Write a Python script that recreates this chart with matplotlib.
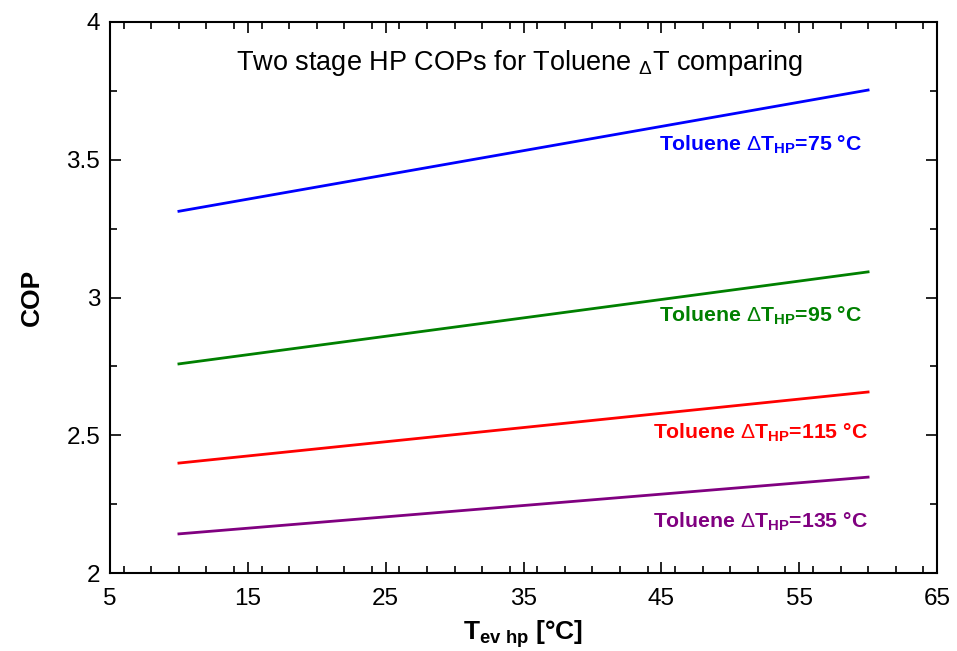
import matplotlib.pyplot as plt
from matplotlib.ticker import MultipleLocator

plt.rcParams['font.family'] = ['Liberation Sans', 'DejaVu Sans']
plt.rcParams['mathtext.fontset'] = 'custom'
plt.rcParams['mathtext.rm'] = 'Liberation Sans'
plt.rcParams['mathtext.bf'] = 'Liberation Sans:bold'
plt.rcParams['mathtext.it'] = 'Liberation Sans:italic'

# evaporator temperature [°C]
t_ev = [10, 60]

# COP for each Toluene delta T
cop_75 = [3.313, 3.753]
cop_95 = [2.759, 3.093]
cop_115 = [2.399, 2.657]
cop_135 = [2.142, 2.348]

series = [
    (cop_75, 'blue', '75', 3.555),
    (cop_95, 'green', '95', 2.935),
    (cop_115, 'red', '115', 2.51),
    (cop_135, 'purple', '135', 2.185),
]

fig = plt.figure(figsize=(9.57, 6.51), dpi=100)
ax = fig.add_axes([110 / 957, 1 - 573 / 651, 827 / 957, 551 / 651])

for vals, col, dt, ylab in series:
    ax.plot(t_ev, vals, color=col, lw=2)
    ax.text(52.2, ylab, r'Toluene $\Delta$T$_{\mathbf{HP}}$=' + dt + ' °C',
            color=col, fontsize=15.3, fontweight='bold', ha='center', va='center')

ax.text(0.495, 0.926, r'Two stage HP COPs for Toluene $_\Delta$T comparing',
        transform=ax.transAxes, ha='center', va='center', fontsize=19.5)

ax.set_xlim(5, 65)
ax.set_ylim(2, 4)
ax.xaxis.set_minor_locator(MultipleLocator(2))
ax.yaxis.set_minor_locator(MultipleLocator(0.25))
ax.set_xticks(range(5, 66, 10))
ax.set_xticklabels([str(v) for v in range(5, 66, 10)])
ax.set_yticks([2, 2.5, 3, 3.5, 4])
ax.set_yticklabels(['2', '2.5', '3', '3.5', '4'])
ax.tick_params(which='both', direction='in', top=True, right=True, width=1.2, labelsize=17.5)
ax.tick_params(axis='x', pad=11)
ax.tick_params(axis='y', pad=7)
ax.tick_params(which='major', length=8)
ax.tick_params(which='minor', length=5)
for s in ax.spines.values():
    s.set_linewidth(1.5)

ax.set_xlabel(r'T$_{\mathbf{ev\ hp}}$ [°C]', fontsize=19, fontweight='bold', labelpad=6)
ax.set_ylabel('COP', fontsize=19, fontweight='bold', labelpad=16)

fig.savefig('out.png', dpi=100)
